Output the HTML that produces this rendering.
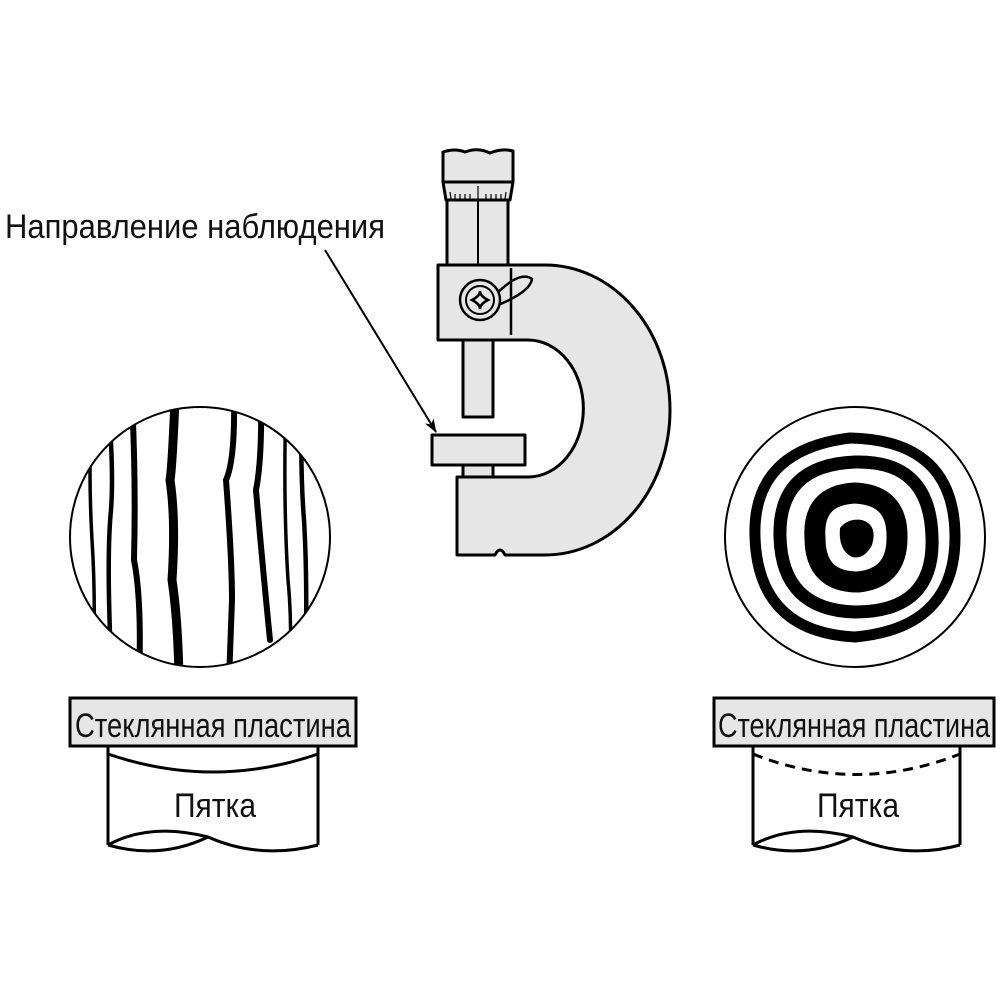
<!DOCTYPE html>
<html><head><meta charset="utf-8"><style>html,body{margin:0;padding:0;background:#fff}svg{display:block}</style></head>
<body>
<svg width="1000" height="1000" viewBox="0 0 1000 1000" xmlns="http://www.w3.org/2000/svg" font-family="Liberation Sans, DejaVu Sans, sans-serif">
<defs>
<clipPath id="cl"><circle cx="200" cy="537" r="130"/></clipPath>
<marker id="ar" markerWidth="14" markerHeight="10" refX="13" refY="5" orient="auto" markerUnits="userSpaceOnUse"><path d="M0,0 L14,5 L0,10 L4,5 z" fill="#000"/></marker>
</defs>
<text x="5" y="238" font-size="34" fill="#111" textLength="380" lengthAdjust="spacingAndGlyphs">Направление наблюдения</text>
<line x1="325" y1="250" x2="436" y2="432" stroke="#000" stroke-width="2" marker-end="url(#ar)"/>

<g stroke="#000" stroke-width="3" fill="#e6e6e6" stroke-linejoin="round">
<path d="M438,265 L545,265 A125,145 0 0 1 545,555 L505,555 Q500,545 495,555 L457,555 L457,477 L528,477 A55,68 0 0 0 528,340 L438,340 Z"/>
<path d="M443,182 L443,152 Q455,148 465,152 Q478,147 490,153 Q502,148 513,151 L513,182 Z"/>
<path d="M443,182 L513,182 L510,200 L446,200 Z"/>
<rect x="447" y="200" width="61" height="65"/>
<rect x="463" y="340" width="30" height="77"/>
<rect x="463" y="465" width="30" height="12"/>
<rect x="432" y="435" width="93" height="30"/>
</g>
<g stroke="#000" fill="none">
<line x1="478" y1="200" x2="478" y2="265" stroke-width="2"/>
<line x1="511" y1="268" x2="511" y2="335" stroke-width="2.5"/>
<path d="M450,192 L451,199 M455,194 L455,199 M460,194 L460,199 M465,194 L465,199 M470,194 L470,199 M478,186 L478,199 M486,194 L486,199 M491,194 L491,199 M496,194 L496,199 M501,194 L501,199 M506,192 L505,199" stroke-width="1.2"/>
<path d="M495,295 Q520,270 532,279 Q530,292 498,305" stroke-width="2.5"/>
<circle cx="480" cy="300" r="20" fill="#e6e6e6" stroke-width="2.5"/>
<circle cx="480" cy="300" r="14" stroke-width="2"/>
<path d="M472,300 Q480,296 480,291 Q480,296 488,300 Q480,304 480,309 Q480,304 472,300 Z" stroke-width="2.5"/>
</g>

<circle cx="200" cy="537" r="130" fill="#fff" stroke="#000" stroke-width="2"/>
<g clip-path="url(#cl)" stroke="#000" fill="none" stroke-linecap="round">
<path d="M92,400 Q88,470 92,540 Q96,600 93,680" stroke-width="3.5"/>
<path d="M108,400 Q114,470 111,510 Q106,560 112,680" stroke-width="4.5"/>
<path d="M132,400 Q136,480 134,560 Q142,600 139,680" stroke-width="6"/>
<path d="M175,400 Q172,470 170,480 Q176,520 172,580 Q178,620 179,680" stroke-width="9"/>
<path d="M234,400 Q235,460 226,480 Q232,560 232,600 L229,680" stroke-width="6"/>
<path d="M261,400 Q262,460 256,490 Q262,560 270,640" stroke-width="6"/>
<path d="M286,400 Q283,500 288,580 Q292,620 290,680" stroke-width="3.5"/>
<path d="M302,400 Q300,470 304,520 Q307,570 306,640" stroke-width="4.5"/>
</g>

<circle cx="855" cy="537" r="130" fill="#fff" stroke="#000" stroke-width="2"/>
<g fill="none" stroke="#000">
<path d="M755,537 Q752,450 850,438 Q955,440 955,537 Q955,628 855,637 Q758,632 755,537 Z" stroke-width="11"/>
<path d="M780,537 Q778,465 855,462 Q930,460 932,537 Q935,612 855,612 Q782,610 780,537 Z" stroke-width="13"/>
<path d="M815,538 Q812,495 855,493 Q898,495 897,538 Q897,578 858,582 Q815,582 815,538 Z" stroke-width="21"/>
</g>
<path d="M840,528 Q848,518 862,520 Q878,525 872,545 Q864,560 852,557 Q838,550 840,528 Z" fill="#000"/>

<rect x="70" y="698" width="286" height="48" fill="#e6e6e6" stroke="#000" stroke-width="3"/>
<text x="75" y="737" font-size="34" fill="#111" textLength="276" lengthAdjust="spacingAndGlyphs">Стеклянная пластина</text>
<g stroke="#000" stroke-width="3" fill="none">
<path d="M108,746 L108,845 M318,746 L318,845"/>
<path d="M108,754 Q213,790 318,754"/>
<path d="M108,845 Q150,822 208,837 Q260,860 318,845"/>
<path d="M108,845 Q160,860 208,837"/>
</g>
<text x="174" y="817" font-size="34" fill="#111" textLength="82" lengthAdjust="spacingAndGlyphs">Пятка</text>

<rect x="714" y="698" width="280" height="48" fill="#e6e6e6" stroke="#000" stroke-width="3"/>
<text x="718" y="737" font-size="34" fill="#111" textLength="272" lengthAdjust="spacingAndGlyphs">Стеклянная пластина</text>
<g stroke="#000" stroke-width="3" fill="none">
<path d="M753,746 L753,845 M960,746 L960,845"/>
<path d="M753,754 Q856,795 960,754" stroke-dasharray="10,7"/>
<path d="M753,845 Q795,822 853,837 Q905,860 960,845"/>
<path d="M753,845 Q805,860 853,837"/>
</g>
<text x="817" y="817" font-size="34" fill="#111" textLength="82" lengthAdjust="spacingAndGlyphs">Пятка</text>
</svg>
</body></html>
